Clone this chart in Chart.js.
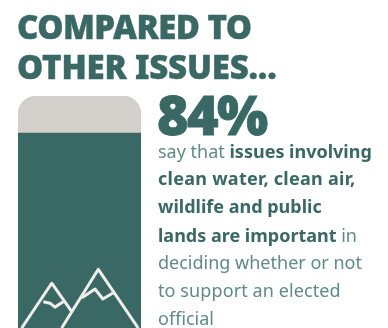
<!DOCTYPE html>
<html>
<head>
<meta charset="utf-8">
<script src="https://cdn.jsdelivr.net/npm/chart.js@4"></script>
<style>
  html, body { margin: 0; padding: 0; background: #fff; width: 388px; height: 328px; overflow: hidden; }
  #wrap { position: relative; width: 388px; height: 328px; }
  canvas { position: absolute; left: 0; top: 0; }
  .t { position: absolute; white-space: nowrap; color: #3a6864; font-family: 'Noto Sans', sans-serif; }
  .title { left: 17px; font-weight: 900; font-size: 33px; line-height: 40px; -webkit-text-stroke: 0.4px #3a6864; }
  .big { left: 157px; top: 82px; font-weight: 900; font-size: 54px; line-height: 64px; letter-spacing: -1.6px; -webkit-text-stroke: 0.8px #3a6864; }
  .line { left: 158px; font-weight: 400; font-size: 18px; line-height: 24px; color: #5f8a88; }
  .line b { font-weight: 700; color: #3a6864; }
</style>
</head>
<body>
<div id="wrap">
  <canvas id="c" width="388" height="328"></canvas>
  <div class="t title" style="top:7px;letter-spacing:-0.55px">COMPARED TO</div>
  <div class="t title" style="top:47px;letter-spacing:-0.2px">OTHER ISSUES...</div>
  <div class="t big">84%</div>
  <div class="t line" style="top:139px">say that <b>issues involving</b></div>
  <div class="t line" style="top:166px;letter-spacing:0.27px"><b>clean water, clean air,</b></div>
  <div class="t line" style="top:194px"><b>wildlife and public</b></div>
  <div class="t line" style="top:223px"><b>lands are important</b> in</div>
  <div class="t line" style="top:250px">deciding whether or not</div>
  <div class="t line" style="top:278px;letter-spacing:0.1px">to support an elected</div>
  <div class="t line" style="top:306px">official</div>
</div>
<script>
const categories = ['Important'];
const importantShare = [84];
const remainingShare = [16];

const TEAL = '#3a6864';
const STONE = '#d3d0cb';
const ICON = '#eeeeea';

// Mountain icon paths over the filled bar, in fractions of bar width and bar height.
const leftRidge = [[0.03, 1.0], [0.274, 0.807], [0.437, 0.929]];
const rightRidge = [[0.355, 1.0], [0.653, 0.747], [0.977, 1.0]];
const leftSnow = [[0.206, 0.887], [0.26, 0.893], [0.30, 0.91], [0.368, 0.887]];
const rightSnow = [[0.52, 0.87], [0.626, 0.832], [0.69, 0.875], [0.772, 0.849]];

const mountainIcon = {
  id: 'mountainIcon',
  afterDatasetsDraw(chart) {
    const bar = chart.getDatasetMeta(0).data[0];
    const left = bar.x - bar.width / 2;
    const top = chart.scales.y.getPixelForValue(100);
    const height = chart.scales.y.getPixelForValue(0) - top;
    const ctx = chart.ctx;
    ctx.save();
    ctx.strokeStyle = ICON;
    ctx.lineWidth = 3;
    ctx.lineJoin = 'round';
    [leftRidge, rightRidge, leftSnow, rightSnow].forEach(path => {
      ctx.beginPath();
      path.forEach(([fx, fy], i) => {
        const px = left + fx * bar.width;
        const py = top + fy * height;
        if (i === 0) ctx.moveTo(px, py); else ctx.lineTo(px, py);
      });
      ctx.stroke();
    });
    ctx.restore();
  }
};

new Chart(document.getElementById('c'), {
  type: 'bar',
  data: {
    labels: categories,
    datasets: [
      { data: importantShare, backgroundColor: TEAL, borderWidth: 0, borderSkipped: false },
      { data: remainingShare, backgroundColor: STONE, borderWidth: 0,
        borderRadius: { topLeft: 20, topRight: 20, bottomLeft: 0, bottomRight: 0 }, borderSkipped: false }
    ]
  },
  options: {
    responsive: false,
    animation: false,
    layout: { padding: { left: 18, right: 247, top: 96, bottom: 0 } },
    datasets: { bar: { barPercentage: 1, categoryPercentage: 1 } },
    plugins: { legend: { display: false }, tooltip: { enabled: false } },
    scales: {
      x: { display: false, stacked: true },
      y: { display: false, stacked: true, min: 0, max: 100 }
    }
  },
  plugins: [mountainIcon]
});
</script>
</body>
</html>
